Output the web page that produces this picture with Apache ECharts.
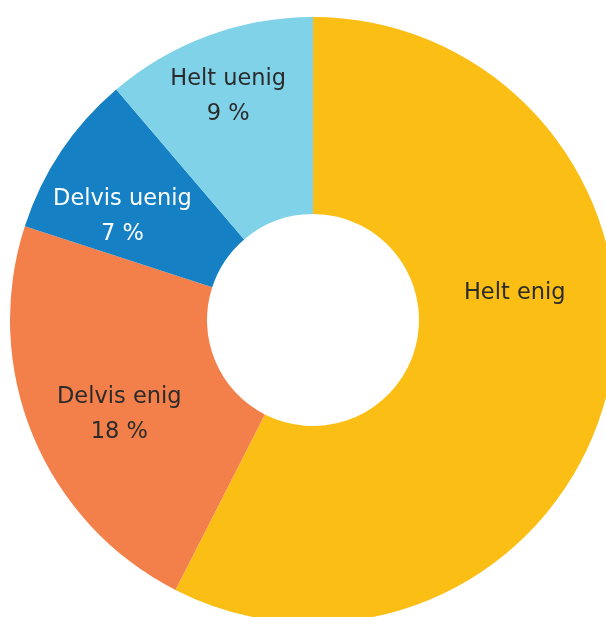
<!DOCTYPE html>
<html>
<head>
<meta charset="utf-8">
<script src="https://cdn.jsdelivr.net/npm/echarts@6/dist/echarts.min.js"></script>
<style>
html,body{margin:0;padding:0;background:#fff;}
#c{width:606px;height:617px;}
</style>
</head>
<body>
<div id="c"></div>
<script>
const categories = ['Helt enig', 'Delvis enig', 'Delvis uenig', 'Helt uenig'];
const values = [46, 18, 7, 9];
const showValue = [false, true, true, true];
const colors = ['#FBBE14', '#F3804A', '#1581C4', '#80D2E8'];
const labelColors = ['#2b2b2b', '#2b2b2b', '#ffffff', '#2b2b2b'];
const labelOffsets = [[0, -75], [-2, 15], [-18, 12], [-13, -29]];

const chart = echarts.init(document.getElementById('c'), null, {renderer: 'canvas'});
chart.setOption({
  animation: false,
  backgroundColor: '#ffffff',
  series: [{
    type: 'pie',
    center: [313, 320],
    radius: [106, 303],
    startAngle: 90,
    clockwise: true,
    avoidLabelOverlap: false,
    label: {
      position: 'inside',
      fontFamily: 'DejaVu Sans',
      fontSize: 22.5,
      lineHeight: 35,
      align: 'center'
    },
    labelLine: {show: false},
    itemStyle: {borderWidth: 0},
    emphasis: {disabled: true},
    data: categories.map((name, i) => ({
      name: name,
      value: values[i],
      itemStyle: {color: colors[i]},
      label: {
        color: labelColors[i],
        offset: labelOffsets[i],
        formatter: showValue[i] ? name + '\n' + values[i] + ' %' : name
      }
    }))
  }]
});
</script>
</body>
</html>
